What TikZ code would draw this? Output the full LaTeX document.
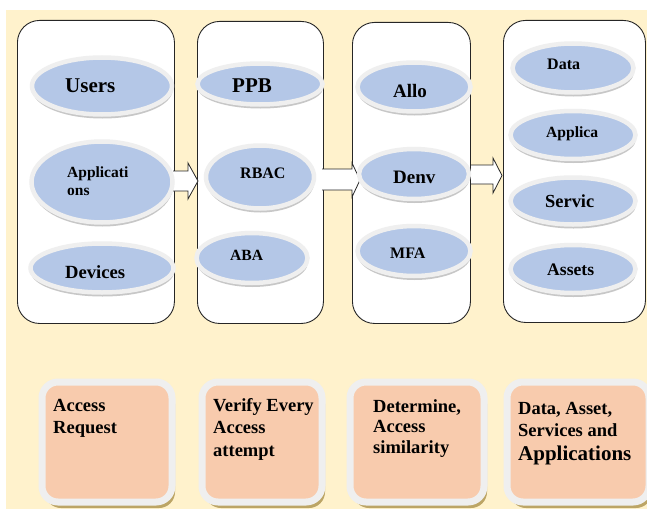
\documentclass[tikz,border=0pt]{standalone}
\usepackage{fontspec}
\setmainfont{Liberation Serif}
\usetikzlibrary{shapes.geometric,shadows}
\definecolor{cream}{HTML}{FFF2CC}
\definecolor{eblue}{HTML}{B4C7E7}
\definecolor{peach}{HTML}{F8CBAD}
\definecolor{ring}{HTML}{EFEFEF}
\definecolor{eshadow}{HTML}{9A9A9A}
\definecolor{bshadow}{HTML}{BCA566}
\begin{document}
\begin{tikzpicture}[x=1pt,y=-1pt,
  colbox/.style={draw=black!85, line width=0.9pt, fill=white, rounded corners=22pt, inner sep=0pt, anchor=north west},
  ell/.style={ellipse, draw=ring, line width=4.5pt, fill=eblue, inner sep=0pt,
    drop shadow={shadow xshift=0.5pt, shadow yshift=-4pt, fill=eshadow, opacity=0.55}},
  lbl/.style={inner sep=0pt, anchor=base west, align=left},
  pbox/.style={draw=ring, line width=7pt, fill=peach, rounded corners=16pt, inner sep=0pt, anchor=north west,
    drop shadow={shadow xshift=3pt, shadow yshift=-6pt, fill=bshadow, opacity=1}},
  barrow/.style={draw=black!85, line width=0.8pt, fill=white, line join=miter},
]
\useasboundingbox (0,0) rectangle (647,511);
\fill[cream] (6,10) rectangle (647,509);

% columns
\node[colbox, minimum width=157pt, minimum height=303pt] (col1) at (17,20) {};
\node[colbox, minimum width=126pt, minimum height=302pt] (col2) at (197,21) {};
\node[colbox, minimum width=118pt, minimum height=301pt] (col3) at (352,22) {};
\node[colbox, minimum width=142pt, minimum height=302pt] (col4) at (503,20) {};

% block arrows
\filldraw[barrow] (173,171) -- (188,171) -- (188,163) -- (198,181) -- (188,199) -- (188,191) -- (173,191);
\filldraw[barrow] (322,169) -- (352,169) -- (352,163) -- (360,180) -- (352,197) -- (352,190) -- (322,190);
\filldraw[barrow] (471,165) -- (493,165) -- (493,158) -- (502,175.5) -- (493,193) -- (493,184) -- (471,184);

% ellipses column 1
\node[ell, minimum width=140pt, minimum height=57pt] (users) at (102,86) {};
\node[ell, minimum width=141pt, minimum height=81pt] (apps) at (102,182) {};
\node[ell, minimum width=143pt, minimum height=49pt] (devices) at (102,268) {};
% column 2
\node[ell, minimum width=125pt, minimum height=41pt] (ppb) at (260,84) {};
\node[ell, minimum width=108pt, minimum height=63pt] (rbac) at (260,177) {};
\node[ell, minimum width=111pt, minimum height=50pt] (aba) at (252,258) {};
% column 3
\node[ell, minimum width=113pt, minimum height=49pt] (allo) at (414,87) {};
\node[ell, minimum width=110pt, minimum height=50pt] (denv) at (414,174) {};
\node[ell, minimum width=113pt, minimum height=50pt] (mfa) at (414,251) {};
% column 4
\node[ell, minimum width=121pt, minimum height=49pt] (data) at (573,68) {};
\node[ell, minimum width=125pt, minimum height=48pt] (applica) at (573,135) {};
\node[ell, minimum width=125pt, minimum height=47pt] (servic) at (573,201) {};
\node[ell, minimum width=125pt, minimum height=48pt] (assets) at (573,269) {};

% ellipse labels (base = baseline of last line)
\node[lbl, font=\fontsize{21}{25}\selectfont\bfseries] (users-t) at (65,92) {Users};
\node[lbl, font=\fontsize{15.5}{18}\selectfont\bfseries] (apps-t) at (67,195) {Applicati\\ons};
\node[lbl, font=\fontsize{18.6}{22}\selectfont\bfseries] (devices-t) at (65,278) {Devices};
\node[lbl, font=\fontsize{21}{25}\selectfont\bfseries] (ppb-t) at (232,92) {PPB};
\node[lbl, font=\fontsize{16}{19}\selectfont\bfseries] (rbac-t) at (240,178) {RBAC};
\node[lbl, font=\fontsize{15.6}{19}\selectfont\bfseries] (aba-t) at (230,260) {ABA};
\node[lbl, font=\fontsize{19}{22}\selectfont\bfseries] (allo-t) at (393,97) {Allo};
\node[lbl, font=\fontsize{19}{22}\selectfont\bfseries] (denv-t) at (393,183) {Denv};
\node[lbl, font=\fontsize{16}{19}\selectfont\bfseries] (mfa-t) at (390,258) {MFA};
\node[lbl, font=\fontsize{16}{19}\selectfont\bfseries] (data-t) at (547,70) {Data};
\node[lbl, font=\fontsize{15.6}{19}\selectfont\bfseries] (applica-t) at (546,137) {Applica};
\node[lbl, font=\fontsize{18.4}{22}\selectfont\bfseries] (servic-t) at (545,207) {Servic};
\node[lbl, font=\fontsize{17.6}{21}\selectfont\bfseries] (assets-t) at (547,275) {Assets};

% bottom boxes
\node[pbox, minimum width=130pt, minimum height=120pt] (b1) at (38.5,378.5) {};
\node[pbox, minimum width=120pt, minimum height=120pt] (b2) at (198.5,378.5) {};
\node[pbox, minimum width=134pt, minimum height=120pt] (b3) at (346.5,378.5) {};
\node[pbox, minimum width=142pt, minimum height=120pt] (b4) at (503.5,378.5) {};

\node[lbl, font=\fontsize{18.5}{21.5}\selectfont\bfseries] (b1-t) at (53,433) {Access\\Request};
\node[lbl, font=\fontsize{18.5}{22.5}\selectfont\bfseries] (b2-t) at (213,456) {Verify Every\\Access\\attempt};
\node[lbl, font=\fontsize{18.5}{20.5}\selectfont\bfseries] (b3-t) at (373,453) {Determine,\\Access\\similarity};
\node[lbl, font=\fontsize{18.5}{22}\selectfont\bfseries] (b4-t) at (518,460) {Data, Asset,\\Services and\\[2pt]{\fontsize{21}{24}\selectfont Applications}};
\end{tikzpicture}
\end{document}
